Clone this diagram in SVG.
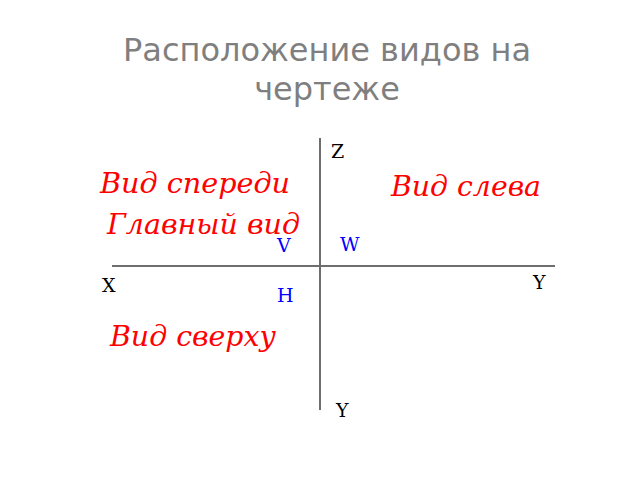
<svg xmlns="http://www.w3.org/2000/svg" width="640" height="480" viewBox="0 0 640 480">
<style>
.title{font-family:"DejaVu Sans",sans-serif;font-size:32px;fill:#7f7f7f;text-anchor:middle}
.view{font-family:"DejaVu Serif",serif;font-style:italic;font-size:27px;fill:#ff0000}
.axis{font-family:"DejaVu Serif",serif;font-size:19px;fill:#000}
.plane{font-family:"DejaVu Serif",serif;font-size:19px;fill:#0000ff}
.ln{stroke:#6e6e6e;stroke-width:2;fill:none}
</style>
<rect width="640" height="480" fill="#fff"/>
<g id="title">
<text class="title" x="327" y="61">Расположение видов на</text>
<text class="title" x="327" y="100">чертеже</text>
</g>
<g id="connectors">
<line class="ln" x1="320" y1="138" x2="320" y2="410"/>
<line class="ln" x1="112" y1="266" x2="555" y2="266"/>
</g>
<g id="front"><text class="view" x="100" y="193" textLength="190" lengthAdjust="spacingAndGlyphs">Вид спереди</text></g>
<g id="main"><text class="view" x="107" y="234" textLength="193" lengthAdjust="spacingAndGlyphs">Главный вид</text></g>
<g id="left"><text class="view" x="391" y="196" textLength="150" lengthAdjust="spacingAndGlyphs">Вид слева</text></g>
<g id="top"><text class="view" x="110" y="346" textLength="166" lengthAdjust="spacingAndGlyphs">Вид сверху</text></g>
<g id="axis-z"><text class="axis" x="331" y="158">Z</text></g>
<g id="axis-x"><text class="axis" x="102" y="292">X</text></g>
<g id="axis-y1"><text class="axis" x="533" y="289">Y</text></g>
<g id="axis-y2"><text class="axis" x="336" y="417">Y</text></g>
<g id="plane-v"><text class="plane" x="277" y="252">V</text></g>
<g id="plane-w"><text class="plane" x="340" y="251">W</text></g>
<g id="plane-h"><text class="plane" x="277" y="302">H</text></g>
</svg>
